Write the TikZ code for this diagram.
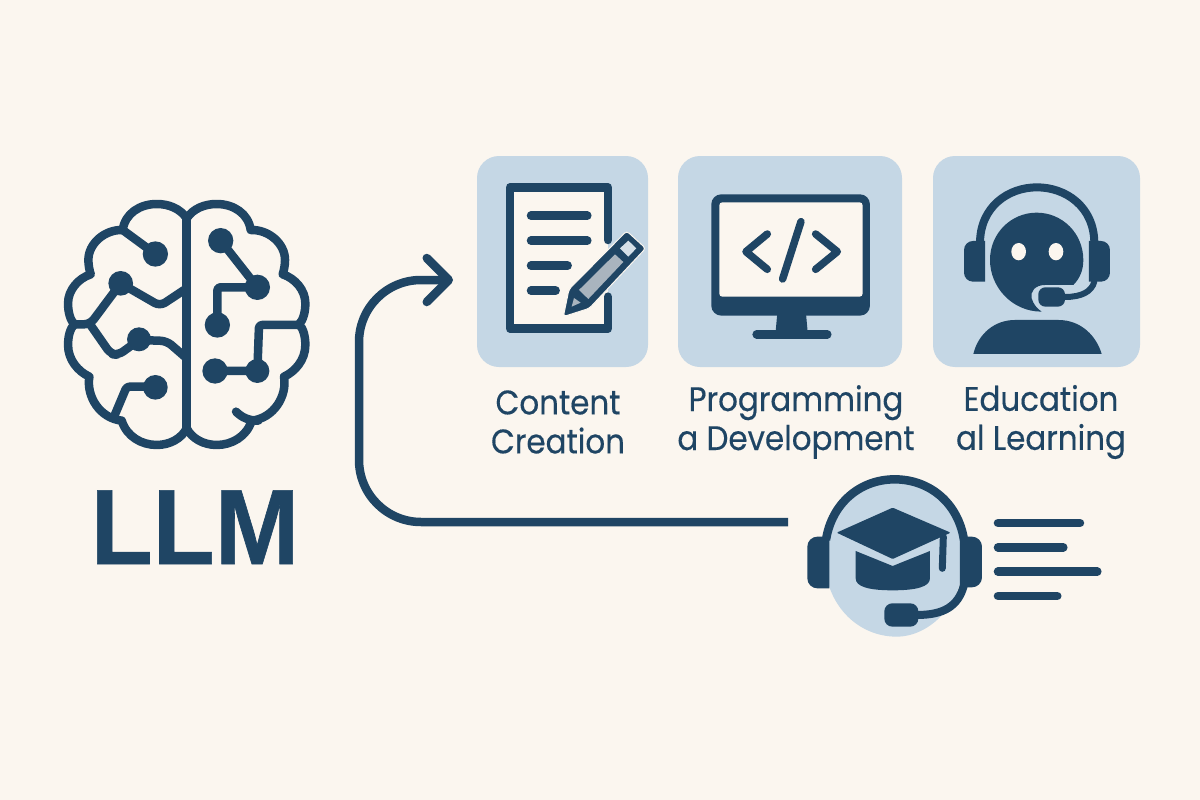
\documentclass[tikz,border=0pt]{standalone}
\usepackage{fontspec}
\setmainfont[FakeStretch=.91,FakeBold=.35]{Poppins}
\newfontfamily\titlefont[FakeStretch=.95,FakeBold=.6]{Liberation Sans}
\usetikzlibrary{arrows.meta}
\definecolor{paper}{HTML}{FBF6EF}
\definecolor{navy}{HTML}{1F4564}
\definecolor{tileblue}{HTML}{C5D7E5}
\definecolor{pencilgrey}{HTML}{A9B4BE}

\begin{document}
\begin{tikzpicture}[
  x=1pt, y=-1pt,
  icon/.style={shift={#1},scale=.3333},
  tile/.style={fill=tileblue, rounded corners=22pt, inner sep=0pt},
  caption/.style={text=navy, align=center, inner sep=0pt, font=\fontsize{34}{39}\selectfont},
  ink/.style={draw=navy, line width=#1, line cap=round, line join=round},
  ink/.default=8.5pt,
  dot/.style={fill=navy}
]
\fill[paper] (0,0) rectangle (1200,800);
\useasboundingbox (0,0) rectangle (1200,800);

% brain
\begin{scope}[icon={(186.7,180)}]
\foreach \flip in {1,-1} {
  \draw[ink, xscale=\flip] (0,115) .. controls (-20,85) and (-55,72) .. (-90,72)
    .. controls (-140,72) and (-185,100) .. (-192,150)
    .. controls (-245,148) and (-295,190) .. (-295,240)
    .. controls (-295,255) and (-292,270) .. (-288,283)
    .. controls (-325,295) and (-356,330) .. (-356,370)
    .. controls (-356,395) and (-350,420) .. (-337,433)
    .. controls (-350,445) and (-356,470) .. (-356,495)
    .. controls (-356,540) and (-325,575) .. (-292,590)
    .. controls (-302,650) and (-260,715) .. (-195,722)
    .. controls (-180,770) and (-135,795) .. (-90,795)
    .. controls (-50,795) and (-15,775) .. (0,745);
}
\draw[ink] (0,115) -- (0,745);
% left side
\draw[ink] (-192,150) -- (-94,222);
\draw[ink, rounded corners=6pt] (-340,433) -- (-290,433) -- (-198,310) -- (-80,378) -- (0,325);
\draw[ink, rounded corners=6pt] (-290,433) -- (-228,522) -- (-205,525) -- (-143,480) -- (-60,483) -- (0,535);
\draw[ink, rounded corners=3pt] (-220,715) -- (-180,620) -- (-94,620);
\fill[dot] (-94,222) circle (38) (-198,310) circle (37) (-143,478) circle (36) (-94,622) circle (37);
% right side
\draw[ink, rounded corners=3pt] (102,182) -- (212,322) -- (92,322) -- (92,435);
\draw[ink, rounded corners=3pt] (85,573) -- (212,573) -- (217,435) -- (336,435);
\draw[ink] (148,695) .. controls (165,712) and (185,722) .. (215,722);
\fill[dot] (102,182) circle (38) (212,322) circle (38) (92,435) circle (38) (85,573) circle (38) (212,573) circle (36);
\end{scope}
\node[text=navy, inner sep=0pt, anchor=base, font=\titlefont\bfseries\fontsize{107}{107}\selectfont] (llmTitle) at (195,564) {LLM};

% tiles
\node[tile, minimum width=171pt, minimum height=211pt] (tileContent) at (562.5,261.5) {};
\node[tile, minimum width=224pt, minimum height=211pt] (tileProgram) at (790,261.5) {};
\node[tile, minimum width=207pt, minimum height=211pt] (tileLearning) at (1036.5,261.5) {};

% document and pencil
\begin{scope}[icon={(470,150)}]
\fill[paper] (120,112) rectangle (414,536);
\fill[tileblue] (414,270) -- (430,270) -- (430,440) -- (414,440) -- cycle;
\draw[ink] (414,270) -- (414,112) -- (120,112) -- (120,536) -- (414,536) -- (414,440);
\draw[ink] (183,197) -- (352,197) (183,272) -- (352,272) (183,347) -- (293,347) (183,422) -- (257,422);
\fill[navy, draw=paper, line width=1pt, line join=round, rounded corners=3pt] (280,500) -- (297,418) -- (470,243) -- (527,295) -- (358,475) -- cycle;
\fill[pencilgrey] (327,420) -- (435,313) -- (460,336) -- (355,447) -- cycle;
\fill[tileblue!70!paper] (450,295) -- (475,272) -- (499,295) -- (475,320) -- cycle;
\fill[pencilgrey] (305,470) -- (312,444) -- (332,458) -- cycle;
\end{scope}

% monitor
\begin{scope}[icon={(470,150)}]
\fill[navy, rounded corners=10pt] (724,133) rectangle (1200,497);
\fill[paper, rounded corners=3pt] (748,157) -- (1178,157) -- (1178,440) -- (748,440) -- cycle;
\fill[navy] (922,490) -- (1008,490) -- (1013,545) -- (917,545) -- cycle;
\draw[ink] (860,553) -- (1072,553);
\draw[ink=7.5pt] (892,252) -- (828,305) -- (892,358) (993,215) -- (938,387) (1037,252) -- (1102,305) -- (1037,358);
\end{scope}

% support agent
\begin{scope}[icon={(925,150)}]
\fill[navy] (335,188) .. controls (412,188) and (475,250) .. (475,330)
  .. controls (475,360) and (465,385) .. (445,405) -- (360,405)
  .. controls (330,405) and (315,425) .. (320,445)
  .. controls (325,462) and (335,475) .. (350,485)
  .. controls (260,485) and (195,410) .. (195,330)
  .. controls (195,250) and (258,188) .. (335,188) -- cycle;
\fill[paper] (281,305) ellipse (22 and 26) (393,305) ellipse (22 and 26);
\draw[ink=8pt, line cap=butt] (165,280) .. controls (165,170) and (250,112) .. (336,112) .. controls (422,112) and (508,170) .. (508,280);
\fill[navy] (180,273) [rounded corners=9pt] -- (117,273) -- (117,395) [sharp corners] -- (180,395) -- cycle;
\fill[navy] (492,273) [rounded corners=9pt] -- (555,273) -- (555,395) [sharp corners] -- (492,395) -- cycle;
\draw[ink=6pt] (508,395) .. controls (500,425) and (470,441) .. (420,441);
\fill[navy, rounded corners=7pt] (340,412) rectangle (420,470);
\fill[navy] (145,612) .. controls (160,550) and (210,510) .. (270,510) -- (400,510) .. controls (470,510) and (515,560) .. (530,612) -- cycle;
\end{scope}

% graduate headset
\begin{scope}[icon={(790,470)}]
\fill[tileblue] (314,25) .. controls (200,25) and (105,120) .. (105,270) .. controls (105,400) and (200,500) .. (320,500)
  .. controls (420,500) and (520,400) .. (520,270) .. controls (520,120) and (430,25) .. (314,25) -- cycle;
\draw[ink=8.5pt, line cap=butt] (108,210) .. controls (125,100) and (210,28) .. (314,28) .. controls (420,28) and (505,100) .. (522,210);
\fill[navy] (118,200) [rounded corners=10pt] -- (52,200) -- (52,355) [sharp corners] -- (118,355) -- cycle;
\fill[navy] (510,200) [rounded corners=10pt] -- (576,200) -- (576,352) [sharp corners] -- (510,352) -- cycle;
\draw[ink=8pt] (522,345) .. controls (505,410) and (460,435) .. (380,435);
\fill[navy, rounded corners=8pt] (283,400) rectangle (385,470);
\fill[navy, rounded corners=1pt] (308,113) -- (482,188) -- (308,267) -- (140,188) -- cycle;
\fill[navy] (197,243) -- (308,288) -- (420,243) -- (420,325) .. controls (420,350) and (380,361) .. (308,361) .. controls (236,361) and (197,350) .. (197,325) -- cycle;
\draw[ink=7pt] (460,200) -- (457,295);
\draw[ink] (624,159) -- (870,159) (624,232) -- (820,232) (624,305) -- (922,305) (624,378) -- (802,378);
\end{scope}

% arrow
\coordinate (arrowStart) at (788,522);
\coordinate (arrowEnd) at (453,280);
\draw[ink=8.5pt, line cap=butt, rounded corners=62pt, -{Straight Barb[length=22pt,width=44pt,round]}] (arrowStart) -| (359,400) |- (arrowEnd);

% captions
\node[caption] (lblContent) at (558,422) {Content\\Creation};
\node[caption] (lblProgram) at (796,422) {Programming\\a Development};
\node[caption] (lblLearning) at (1041,422) {Education\\al Learning};
\end{tikzpicture}
\end{document}
